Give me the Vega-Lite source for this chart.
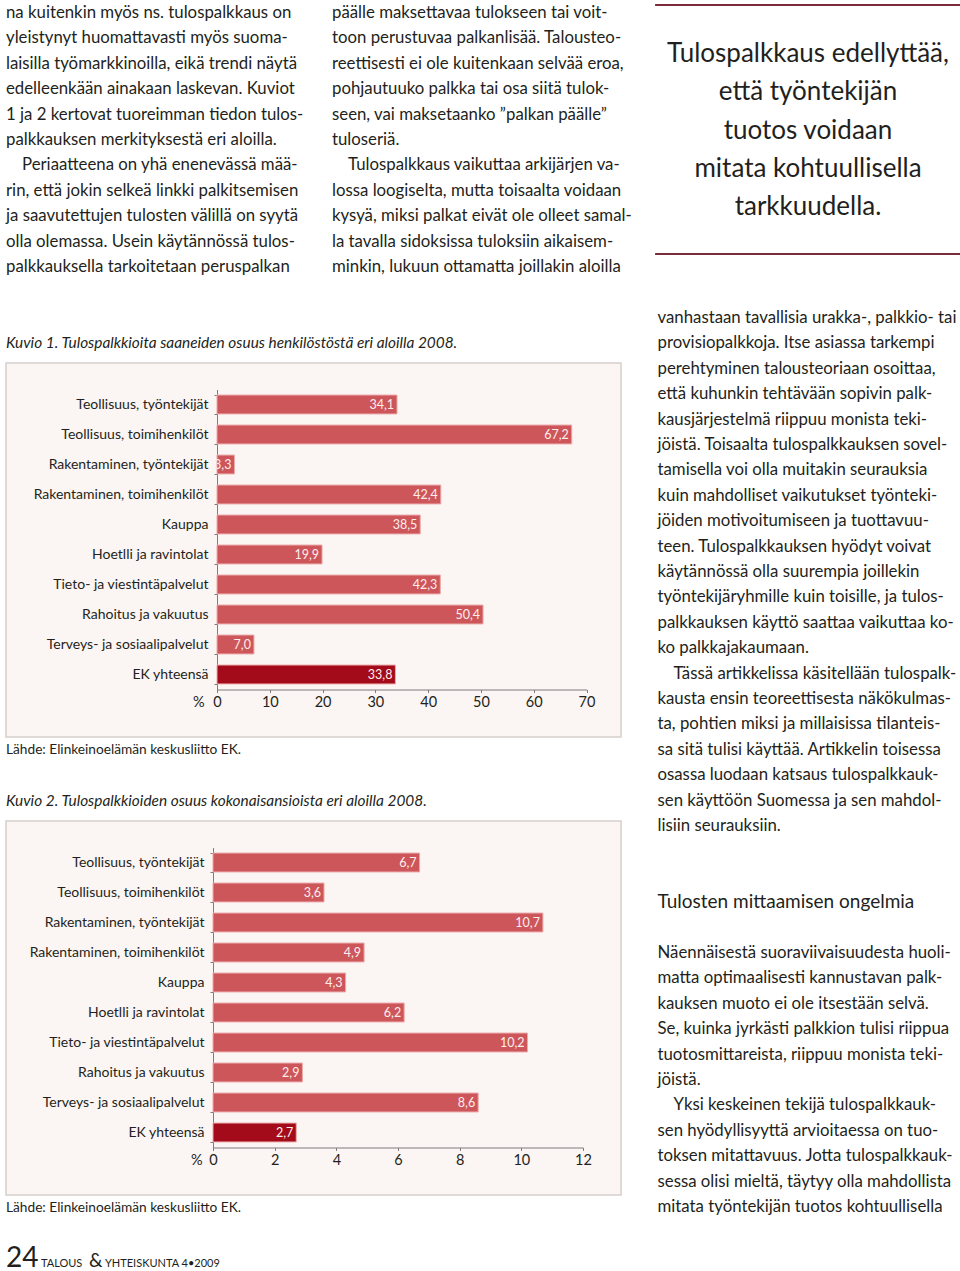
{
  "$schema": "https://vega.github.io/schema/vega-lite/v6.json",
  "background": "white",
  "padding": {"left": 5, "top": 0, "right": 0, "bottom": 0},
  "datasets": {
    "vasen": [
      {"section": "yla", "col": 0, "line": 0, "role": "body", "text": "na kuitenkin myös ns. tulospalkkaus on"},
      {"section": "yla", "col": 0, "line": 1, "role": "body", "text": "yleistynyt huomattavasti myös suoma-"},
      {"section": "yla", "col": 0, "line": 2, "role": "body", "text": "laisilla työmarkkinoilla, eikä trendi näytä"},
      {"section": "yla", "col": 0, "line": 3, "role": "body", "text": "edelleenkään ainakaan laskevan. Kuviot"},
      {"section": "yla", "col": 0, "line": 4, "role": "body", "text": "1 ja 2 kertovat tuoreimman tiedon tulos-"},
      {"section": "yla", "col": 0, "line": 5, "role": "body", "text": "palkkauksen merkityksestä eri aloilla."},
      {"section": "yla", "col": 0, "line": 6, "role": "indent", "text": "Periaatteena on yhä enenevässä mää-"},
      {"section": "yla", "col": 0, "line": 7, "role": "body", "text": "rin, että jokin selkeä linkki palkitsemisen"},
      {"section": "yla", "col": 0, "line": 8, "role": "body", "text": "ja saavutettujen tulosten välillä on syytä"},
      {"section": "yla", "col": 0, "line": 9, "role": "body", "text": "olla olemassa. Usein käytännössä tulos-"},
      {"section": "yla", "col": 0, "line": 10, "role": "body", "text": "palkkauksella tarkoitetaan peruspalkan"},
      {"section": "yla", "col": 1, "line": 0, "role": "body", "text": "päälle maksettavaa tulokseen tai voit-"},
      {"section": "yla", "col": 1, "line": 1, "role": "body", "text": "toon perustuvaa palkanlisää. Talousteo-"},
      {"section": "yla", "col": 1, "line": 2, "role": "body", "text": "reettisesti ei ole kuitenkaan selvää eroa,"},
      {"section": "yla", "col": 1, "line": 3, "role": "body", "text": "pohjautuuko palkka tai osa siitä tulok-"},
      {"section": "yla", "col": 1, "line": 4, "role": "body", "text": "seen, vai maksetaanko ”palkan päälle”"},
      {"section": "yla", "col": 1, "line": 5, "role": "body", "text": "tuloseriä."},
      {"section": "yla", "col": 1, "line": 6, "role": "indent", "text": "Tulospalkkaus vaikuttaa arkijärjen va-"},
      {"section": "yla", "col": 1, "line": 7, "role": "body", "text": "lossa loogiselta, mutta toisaalta voidaan"},
      {"section": "yla", "col": 1, "line": 8, "role": "body", "text": "kysyä, miksi palkat eivät ole olleet samal-"},
      {"section": "yla", "col": 1, "line": 9, "role": "body", "text": "la tavalla sidoksissa tuloksiin aikaisem-"},
      {"section": "yla", "col": 1, "line": 10, "role": "body", "text": "minkin, lukuun ottamatta joillakin aloilla"},
      {"section": "yla", "col": 0, "line": 13, "role": "caption", "text": "Kuvio 1. Tulospalkkioita saaneiden osuus henkilöstöstä eri aloilla 2008."},
      {"section": "keski", "col": 0, "line": 0, "role": "source", "text": "Lähde: Elinkeinoelämän keskusliitto EK."},
      {"section": "keski", "col": 0, "line": 2, "role": "caption", "text": "Kuvio 2. Tulospalkkioiden osuus kokonaisansioista eri aloilla 2008."},
      {"section": "ala", "col": 0, "line": 0, "role": "source", "text": "Lähde: Elinkeinoelämän keskusliitto EK."},
      {"section": "ala", "col": 0, "line": 2, "role": "folionum", "text": "24"},
      {"section": "ala", "col": 0, "line": 2, "role": "folioa", "text": "TALOUS"},
      {"section": "ala", "col": 0, "line": 2, "role": "amp", "text": "&"},
      {"section": "ala", "col": 0, "line": 2, "role": "foliob", "text": "YHTEISKUNTA 4•2009"}
    ],
    "oikea": [
      {"col": 0, "line": 0, "role": "body", "text": "vanhastaan tavallisia urakka-, palkkio- tai"},
      {"col": 0, "line": 1, "role": "body", "text": "provisiopalkkoja. Itse asiassa tarkempi"},
      {"col": 0, "line": 2, "role": "body", "text": "perehtyminen talousteoriaan osoittaa,"},
      {"col": 0, "line": 3, "role": "body", "text": "että kuhunkin tehtävään sopivin palk-"},
      {"col": 0, "line": 4, "role": "body", "text": "kausjärjestelmä riippuu monista teki-"},
      {"col": 0, "line": 5, "role": "body", "text": "jöistä. Toisaalta tulospalkkauksen sovel-"},
      {"col": 0, "line": 6, "role": "body", "text": "tamisella voi olla muitakin seurauksia"},
      {"col": 0, "line": 7, "role": "body", "text": "kuin mahdolliset vaikutukset työnteki-"},
      {"col": 0, "line": 8, "role": "body", "text": "jöiden motivoitumiseen ja tuottavuu-"},
      {"col": 0, "line": 9, "role": "body", "text": "teen. Tulospalkkauksen hyödyt voivat"},
      {"col": 0, "line": 10, "role": "body", "text": "käytännössä olla suurempia joillekin"},
      {"col": 0, "line": 11, "role": "body", "text": "työntekijäryhmille kuin toisille, ja tulos-"},
      {"col": 0, "line": 12, "role": "body", "text": "palkkauksen käyttö saattaa vaikuttaa ko-"},
      {"col": 0, "line": 13, "role": "body", "text": "ko palkkajakaumaan."},
      {"col": 0, "line": 14, "role": "indent", "text": "Tässä artikkelissa käsitellään tulospalk-"},
      {"col": 0, "line": 15, "role": "body", "text": "kausta ensin teoreettisesta näkökulmas-"},
      {"col": 0, "line": 16, "role": "body", "text": "ta, pohtien miksi ja millaisissa tilanteis-"},
      {"col": 0, "line": 17, "role": "body", "text": "sa sitä tulisi käyttää. Artikkelin toisessa"},
      {"col": 0, "line": 18, "role": "body", "text": "osassa luodaan katsaus tulospalkkauk-"},
      {"col": 0, "line": 19, "role": "body", "text": "sen käyttöön Suomessa ja sen mahdol-"},
      {"col": 0, "line": 20, "role": "body", "text": "lisiin seurauksiin."},
      {"col": 0, "line": 23, "role": "heading", "text": "Tulosten mittaamisen ongelmia"},
      {"col": 0, "line": 25, "role": "body", "text": "Näennäisestä suoraviivaisuudesta huoli-"},
      {"col": 0, "line": 26, "role": "body", "text": "matta optimaalisesti kannustavan palk-"},
      {"col": 0, "line": 27, "role": "body", "text": "kauksen muoto ei ole itsestään selvä."},
      {"col": 0, "line": 28, "role": "body", "text": "Se, kuinka jyrkästi palkkion tulisi riippua"},
      {"col": 0, "line": 29, "role": "body", "text": "tuotosmittareista, riippuu monista teki-"},
      {"col": 0, "line": 30, "role": "body", "text": "jöistä."},
      {"col": 0, "line": 31, "role": "indent", "text": "Yksi keskeinen tekijä tulospalkkauk-"},
      {"col": 0, "line": 32, "role": "body", "text": "sen hyödyllisyyttä arvioitaessa on tuo-"},
      {"col": 0, "line": 33, "role": "body", "text": "toksen mitattavuus. Jotta tulospalkkauk-"},
      {"col": 0, "line": 34, "role": "body", "text": "sessa olisi mieltä, täytyy olla mahdollista"},
      {"col": 0, "line": 35, "role": "body", "text": "mitata työntekijän tuotos kohtuullisella"}
    ],
    "nosto": [
      {"line": 0, "text": "Tulospalkkaus edellyttää,"},
      {"line": 1, "text": "että työntekijän"},
      {"line": 2, "text": "tuotos voidaan"},
      {"line": 3, "text": "mitata kohtuullisella"},
      {"line": 4, "text": "tarkkuudella."}
    ],
    "kuvio1": [
      {"ala": "Teollisuus, työntekijät", "osuus": 34.1, "label": "34,1"},
      {"ala": "Teollisuus, toimihenkilöt", "osuus": 67.2, "label": "67,2"},
      {"ala": "Rakentaminen, työntekijät", "osuus": 3.3, "label": "3,3"},
      {"ala": "Rakentaminen, toimihenkilöt", "osuus": 42.4, "label": "42,4"},
      {"ala": "Kauppa", "osuus": 38.5, "label": "38,5"},
      {"ala": "Hoetlli ja ravintolat", "osuus": 19.9, "label": "19,9"},
      {"ala": "Tieto- ja viestintäpalvelut", "osuus": 42.3, "label": "42,3"},
      {"ala": "Rahoitus ja vakuutus", "osuus": 50.4, "label": "50,4"},
      {"ala": "Terveys- ja sosiaalipalvelut", "osuus": 7.0, "label": "7,0"},
      {"ala": "EK yhteensä", "osuus": 33.8, "label": "33,8"}
    ],
    "kuvio2": [
      {"ala": "Teollisuus, työntekijät", "osuus": 6.7, "label": "6,7"},
      {"ala": "Teollisuus, toimihenkilöt", "osuus": 3.6, "label": "3,6"},
      {"ala": "Rakentaminen, työntekijät", "osuus": 10.7, "label": "10,7"},
      {"ala": "Rakentaminen, toimihenkilöt", "osuus": 4.9, "label": "4,9"},
      {"ala": "Kauppa", "osuus": 4.3, "label": "4,3"},
      {"ala": "Hoetlli ja ravintolat", "osuus": 6.2, "label": "6,2"},
      {"ala": "Tieto- ja viestintäpalvelut", "osuus": 10.2, "label": "10,2"},
      {"ala": "Rahoitus ja vakuutus", "osuus": 2.9, "label": "2,9"},
      {"ala": "Terveys- ja sosiaalipalvelut", "osuus": 8.6, "label": "8,6"},
      {"ala": "EK yhteensä", "osuus": 2.7, "label": "2,7"}
    ]
  },
  "config": {
    "view": {"stroke": null},
    "text": {"font": "Lato", "color": "#231f20"}
  },
  "spacing": 8.5,
  "bounds": "full",
  "hconcat": [
    {
      "spacing": 0,
      "bounds": "flush",
      "vconcat": [
        {
          "width": 640,
          "height": 363,
          "data": {"name": "vasen"},
          "transform": [{"filter": "datum.section === 'yla'"}],
          "encoding": {
            "x": {"field": "col", "type": "quantitative", "scale": {"domain": [0, 1], "range": [0, 326], "nice": false, "zero": false}, "axis": null},
            "y": {"field": "line", "type": "quantitative", "scale": {"domain": [0, 10], "range": [13, 267], "nice": false, "zero": false}, "axis": null},
            "text": {"field": "text", "type": "nominal"}
          },
          "layer": [
            {"transform": [{"filter": "datum.role === 'body'"}], "mark": {"type": "text", "align": "left", "baseline": "middle", "font": "Lato", "fontSize": 16.8}},
            {"transform": [{"filter": "datum.role === 'indent'"}], "mark": {"type": "text", "align": "left", "baseline": "middle", "dx": 16, "font": "Lato", "fontSize": 16.8}},
            {"transform": [{"filter": "datum.role === 'caption'"}], "mark": {"type": "text", "align": "left", "baseline": "middle", "font": "Lato", "fontStyle": "italic", "fontSize": 15.4}}
          ]
        },
        {
          "width": 615,
          "height": 374,
          "data": {"name": "kuvio1"},
          "view": {"fill": "#fbf5f3", "stroke": "#d6cfcb", "strokeWidth": 1.5},
          "encoding": {
            "y": {"field": "ala", "type": "nominal", "sort": null,
              "scale": {"range": [26.5, 326.5], "paddingInner": 0.37, "paddingOuter": 0.185},
              "axis": {"title": null, "orient": "left", "offset": -211, "domainColor": "#7d7d7d", "tickColor": "#7d7d7d", "tickSize": 3, "tickBand": "extent", "labelPadding": 6, "labelFont": "Lato", "labelFontSize": 14, "labelColor": "#231f20", "labelLimit": 300}},
            "x": {"field": "osuus", "type": "quantitative",
              "scale": {"domain": [0, 70], "range": [211, 580.5], "nice": false},
              "axis": {"orient": "bottom", "offset": -47.5, "values": [0, 10, 20, 30, 40, 50, 60, 70], "grid": false, "domainColor": "#7d7d7d", "tickColor": "#7d7d7d", "tickSize": 3, "labelPadding": 3, "labelFont": "Lato", "labelFontSize": 14.5, "labelColor": "#231f20", "labelFlush": false,
                "title": "%", "titleAngle": 0, "titleX": 198, "titleY": 6, "titleAlign": "right", "titleBaseline": "top", "titleFont": "Lato", "titleFontSize": 14.5, "titleFontWeight": "normal", "titleColor": "#231f20"}}
          },
          "layer": [
            {"mark": {"type": "bar", "stroke": "#eba9a8", "strokeWidth": 1},
             "encoding": {"color": {"condition": {"test": "datum.ala === 'EK yhteensä'", "value": "#a30b1a"}, "value": "#cd565b"}}},
            {"mark": {"type": "text", "align": "right", "baseline": "middle", "dx": -3, "font": "Lato", "fontSize": 12.5, "color": "#fdeeee"},
             "encoding": {"text": {"field": "label", "type": "nominal"}}}
          ]
        },
        {
          "width": 615,
          "height": 84,
          "data": {"name": "vasen"},
          "transform": [{"filter": "datum.section === 'keski'"}],
          "encoding": {
            "x": {"field": "col", "type": "quantitative", "scale": {"domain": [0, 1], "range": [0, 326], "nice": false, "zero": false}, "axis": null},
            "y": {"field": "line", "type": "quantitative", "scale": {"domain": [0, 10], "range": [13, 267], "nice": false, "zero": false}, "axis": null},
            "text": {"field": "text", "type": "nominal"}
          },
          "layer": [
            {"transform": [{"filter": "datum.role === 'source'"}], "mark": {"type": "text", "align": "left", "baseline": "middle", "font": "Lato", "fontSize": 13.7}},
            {"transform": [{"filter": "datum.role === 'caption'"}], "mark": {"type": "text", "align": "left", "baseline": "middle", "font": "Lato", "fontStyle": "italic", "fontSize": 15.4}}
          ]
        },
        {
          "width": 615,
          "height": 374,
          "data": {"name": "kuvio2"},
          "view": {"fill": "#fbf5f3", "stroke": "#d6cfcb", "strokeWidth": 1.5},
          "encoding": {
            "y": {"field": "ala", "type": "nominal", "sort": null,
              "scale": {"range": [26.5, 326.5], "paddingInner": 0.37, "paddingOuter": 0.185},
              "axis": {"title": null, "orient": "left", "offset": -207, "domainColor": "#7d7d7d", "tickColor": "#7d7d7d", "tickSize": 3, "tickBand": "extent", "labelPadding": 6, "labelFont": "Lato", "labelFontSize": 14, "labelColor": "#231f20", "labelLimit": 300}},
            "x": {"field": "osuus", "type": "quantitative",
              "scale": {"domain": [0, 12], "range": [207, 577], "nice": false},
              "axis": {"orient": "bottom", "offset": -47.5, "values": [0, 2, 4, 6, 8, 10, 12], "grid": false, "domainColor": "#7d7d7d", "tickColor": "#7d7d7d", "tickSize": 3, "labelPadding": 3, "labelFont": "Lato", "labelFontSize": 14.5, "labelColor": "#231f20", "labelFlush": false,
                "title": "%", "titleAngle": 0, "titleX": 196, "titleY": 6, "titleAlign": "right", "titleBaseline": "top", "titleFont": "Lato", "titleFontSize": 14.5, "titleFontWeight": "normal", "titleColor": "#231f20"}}
          },
          "layer": [
            {"mark": {"type": "bar", "stroke": "#eba9a8", "strokeWidth": 1},
             "encoding": {"color": {"condition": {"test": "datum.ala === 'EK yhteensä'", "value": "#a30b1a"}, "value": "#cd565b"}}},
            {"mark": {"type": "text", "align": "right", "baseline": "middle", "dx": -3, "font": "Lato", "fontSize": 12.5, "color": "#fdeeee"},
             "encoding": {"text": {"field": "label", "type": "nominal"}}}
          ]
        },
        {
          "width": 615,
          "height": 76,
          "data": {"name": "vasen"},
          "transform": [{"filter": "datum.section === 'ala'"}],
          "encoding": {
            "x": {"field": "col", "type": "quantitative", "scale": {"domain": [0, 1], "range": [0, 326], "nice": false, "zero": false}, "axis": null},
            "y": {"field": "line", "type": "quantitative", "scale": {"domain": [0, 10], "range": [13, 267], "nice": false, "zero": false}, "axis": null},
            "text": {"field": "text", "type": "nominal"}
          },
          "layer": [
            {"transform": [{"filter": "datum.role === 'source'"}], "mark": {"type": "text", "align": "left", "baseline": "middle", "font": "Lato", "fontSize": 13.7}},
            {"transform": [{"filter": "datum.role === 'folionum'"}], "mark": {"type": "text", "align": "left", "baseline": "alphabetic", "dy": 8, "font": "Lato", "fontWeight": "normal", "fontSize": 28}},
            {"transform": [{"filter": "datum.role === 'folioa'"}], "mark": {"type": "text", "align": "left", "baseline": "alphabetic", "dy": 8, "dx": 35, "font": "Lato", "fontSize": 11}},
            {"transform": [{"filter": "datum.role === 'amp'"}], "mark": {"type": "text", "align": "left", "baseline": "alphabetic", "dy": 8, "dx": 83, "font": "Lato", "fontSize": 19}},
            {"transform": [{"filter": "datum.role === 'foliob'"}], "mark": {"type": "text", "align": "left", "baseline": "alphabetic", "dy": 8, "dx": 99, "font": "Lato", "fontSize": 11}}
          ]
        }
      ]
    },
    {
      "spacing": 0,
      "bounds": "flush",
      "vconcat": [
        {
          "width": 305,
          "height": 290,
          "data": {"name": "nosto"},
          "encoding": {
            "y": {"field": "line", "type": "quantitative", "scale": {"domain": [0, 4], "range": [54, 207], "nice": false, "zero": false}, "axis": null}
          },
          "layer": [
            {"mark": {"type": "rule", "color": "#7b2d3c", "strokeWidth": 1.5}, "encoding": {"y": {"datum": -1.281, "type": "quantitative", "axis": null}}},
            {"mark": {"type": "rule", "color": "#7b2d3c", "strokeWidth": 1.5}, "encoding": {"y": {"datum": 5.229, "type": "quantitative", "axis": null}}},
            {"mark": {"type": "text", "align": "center", "baseline": "middle", "font": "Lato", "fontSize": 26},
             "encoding": {"text": {"field": "text", "type": "nominal"}}}
          ]
        },
        {
          "width": 305,
          "height": 981,
          "data": {"name": "oikea"},
          "encoding": {
            "x": {"field": "col", "type": "quantitative", "scale": {"domain": [0, 1], "range": [2, 328], "nice": false, "zero": false}, "axis": null},
            "y": {"field": "line", "type": "quantitative", "scale": {"domain": [0, 10], "range": [28, 282], "nice": false, "zero": false}, "axis": null},
            "text": {"field": "text", "type": "nominal"}
          },
          "layer": [
            {"transform": [{"filter": "datum.role === 'body'"}], "mark": {"type": "text", "align": "left", "baseline": "middle", "font": "Lato", "fontSize": 16.8}},
            {"transform": [{"filter": "datum.role === 'indent'"}], "mark": {"type": "text", "align": "left", "baseline": "middle", "dx": 16, "font": "Lato", "fontSize": 16.8}},
            {"transform": [{"filter": "datum.role === 'heading'"}], "mark": {"type": "text", "align": "left", "baseline": "middle", "font": "Lato", "fontSize": 19}}
          ]
        }
      ]
    }
  ]
}
